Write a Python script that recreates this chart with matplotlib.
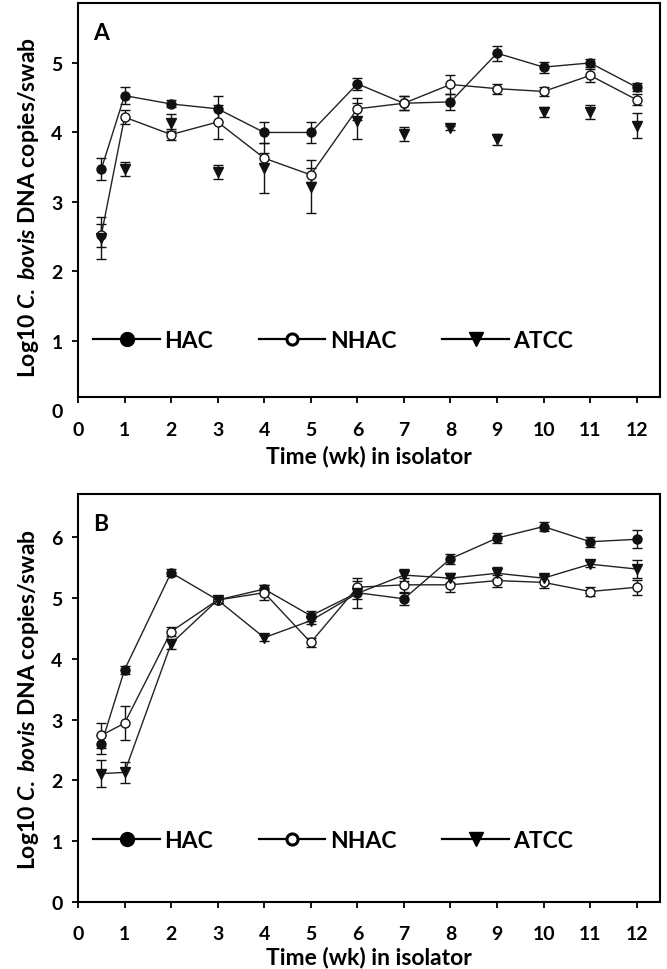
import numpy as np
import matplotlib
matplotlib.use("Agg")
import matplotlib.pyplot as plt
from matplotlib.lines import Line2D

plt.rcParams['font.family'] = ['Lato', 'DejaVu Sans']
plt.rcParams['font.weight'] = 'bold'
plt.rcParams['mathtext.fontset'] = 'custom'
plt.rcParams['mathtext.rm'] = 'Lato:bold'
plt.rcParams['mathtext.it'] = 'Lato:italic:bold'
plt.rcParams['mathtext.bf'] = 'Lato:bold'

# 週 (wk)
weeks = [0.5, 1, 2, 3, 4, 5, 6, 7, 8, 9, 10, 11, 12]

# パネルA
a_hac = [3.47, 4.53, 4.41, 4.34, 4.00, 4.00, 4.70, 4.42, 4.44, 5.14, 4.94, 5.00, 4.65]
a_hac_err = [0.16, 0.12, 0.05, 0.19, 0.15, 0.15, 0.09, 0.10, 0.11, 0.11, 0.08, 0.06, 0.06]
a_nhac = [2.52, 4.22, 3.97, 4.15, 3.63, 3.39, 4.34, 4.42, 4.69, 4.63, 4.59, 4.82, 4.47]
a_nhac_err = [0.17, 0.10, 0.08, 0.25, 0.08, 0.10, 0.16, 0.10, 0.13, 0.07, 0.07, 0.10, 0.08]
a_atcc = [2.48, 3.47, 4.14, 3.43, 3.49, 3.22, 4.16, 3.98, 4.07, 3.90, 4.29, 4.30, 4.10]
a_atcc_err = [0.30, 0.10, 0.12, 0.10, 0.36, 0.38, 0.26, 0.10, 0.03, 0.08, 0.07, 0.10, 0.18]

# パネルB
b_hac = [2.59, 3.82, 5.42, 4.97, 5.15, 4.71, 5.09, 4.99, 5.65, 5.99, 6.18, 5.93, 5.97]
b_hac_err = [0.15, 0.07, 0.06, 0.05, 0.06, 0.08, 0.10, 0.10, 0.08, 0.08, 0.08, 0.08, 0.15]
b_nhac = [2.74, 2.94, 4.45, 4.97, 5.09, 4.27, 5.18, 5.22, 5.22, 5.29, 5.26, 5.11, 5.18]
b_nhac_err = [0.20, 0.28, 0.08, 0.05, 0.12, 0.08, 0.10, 0.12, 0.12, 0.10, 0.10, 0.07, 0.12]
b_atcc = [2.11, 2.13, 4.25, 4.97, 4.35, 4.63, 5.08, 5.38, 5.33, 5.41, 5.33, 5.56, 5.48]
b_atcc_err = [0.22, 0.17, 0.08, 0.05, 0.05, 0.05, 0.25, 0.10, 0.08, 0.10, 0.05, 0.05, 0.15]

labels = ["HAC", "NHAC", "ATCC"]
ylabel = r'Log10 $\mathit{C.\ bovis}$ DNA copies/swab'
xlabel = "Time (wk) in isolator"

fig = plt.figure(figsize=(6.67, 9.70), dpi=100)
ax_a = fig.add_axes([0.1169, 0.5758, 0.8726, 0.4199])
ax_b = fig.add_axes([0.1169, 0.0694, 0.8726, 0.4199])

def draw_series(ax, y, err, marker, face, line=True, ms=6.5):
    ax.errorbar(weeks, y, yerr=err, fmt='none', ecolor='#111111', elinewidth=1,
                capsize=3.5, capthick=1, zorder=2)
    ax.plot(weeks, y, linestyle='-' if line else 'none', color='#222222', lw=1,
            marker=marker, ms=ms, markerfacecolor=face, markeredgecolor='#111111',
            markeredgewidth=1, zorder=3)

def style(ax, ytop, ybot_spine, letter, xlab_y):
    ax.set_xlim(0, 12.5)
    ax.set_ylim(0, ytop)
    ax.set_xticks(range(0, 13))
    ax.set_yticks(range(0, int(ytop) + 1))
    ax.spines['bottom'].set_position(('data', ybot_spine))
    ax.spines['left'].set_bounds(ybot_spine, ytop)
    ax.spines['right'].set_bounds(ybot_spine, ytop)
    for s in ax.spines.values():
        s.set_linewidth(1.5)
    ax.tick_params(direction='out', length=4, width=1.3, labelsize=14)
    ax.tick_params(axis='x', pad=13)
    ax.tick_params(axis='y', pad=7)
    if ybot_spine > 0:
        ax.yaxis.get_major_ticks()[0].tick1line.set_visible(False)
    ax.set_ylabel(ylabel, fontsize=16.5, fontweight='bold')
    ax.yaxis.set_label_coords(-0.064, 0.5)
    ax.set_xlabel(xlabel, fontsize=16.5, fontweight='bold')
    ax.xaxis.set_label_coords(0.5, xlab_y)
    ax.text(0.039, 0.928, letter, transform=ax.transAxes, ha='center', va='center',
            fontsize=16.5, fontweight='bold')
    handles = [
        Line2D([], [], color='black', lw=1.6, marker='o', ms=10, mfc='black', mec='black'),
        Line2D([], [], color='black', lw=1.6, marker='o', ms=8, mfc='white', mec='black', mew=2.2),
        Line2D([], [], color='black', lw=1.6, marker='v', ms=10, mfc='black', mec='black'),
    ]
    ax.legend(handles, labels, ncol=3, loc='center left', bbox_to_anchor=(0.33, 1.0),
              bbox_transform=ax.transData, frameon=False, fontsize=16.5, handlelength=2.9,
              handletextpad=0.2, columnspacing=2.0, borderpad=0, borderaxespad=0)

draw_series(ax_a, a_hac, a_hac_err, 'o', '#111111')
draw_series(ax_a, a_nhac, a_nhac_err, 'o', 'white')
draw_series(ax_a, a_atcc, a_atcc_err, 'v', '#111111', line=False, ms=7)
style(ax_a, 5.86, 0.19, "A", -0.085)

draw_series(ax_b, b_hac, b_hac_err, 'o', '#111111')
draw_series(ax_b, b_nhac, b_nhac_err, 'o', 'white')
draw_series(ax_b, b_atcc, b_atcc_err, 'v', '#111111', ms=7)
style(ax_b, 6.71, 0, "B", -0.108)

plt.savefig("out.png", dpi=100)
